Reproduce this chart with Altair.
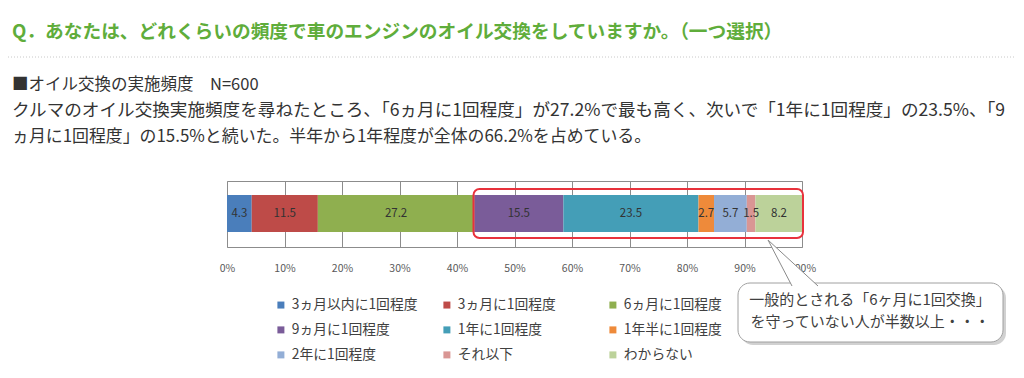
import altair as alt
import pandas as pd

categories = ["3ヵ月以内に1回程度", "3ヵ月に1回程度", "6ヵ月に1回程度",
              "9ヵ月に1回程度", "1年に1回程度", "1年半に1回程度",
              "2年に1回程度", "それ以下", "わからない"]
values = [4.3, 11.5, 27.2, 15.5, 23.5, 2.7, 5.7, 1.5, 8.2]
colors = ["#4A7EBB", "#BE4B48", "#8FAF4F", "#7A5C99", "#449EB7",
          "#EE8A3A", "#93AED6", "#D99694", "#BCD29A"]
tick_values = [0, 10, 20, 30, 40, 50, 60, 70, 80, 90, 100]

title_text = "Q．あなたは、どれくらいの頻度で車のエンジンのオイル交換をしていますか。（一つ選択）"
heading_text = "■オイル交換の実施頻度　N=600"
para_lines = [
    "クルマのオイル交換実施頻度を尋ねたところ、「6ヵ月に1回程度」が27.2%で最も高く、次いで「1年に1回程度」の23.5%、「9",
    "ヵ月に1回程度」の15.5%と続いた。半年から1年程度が全体の66.2%を占めている。",
]
callout_lines = ["一般的とされる「6ヶ月に1回交換」", "を守っていない人が半数以上・・・"]

FONT = "Noto Sans CJK JP"

df = pd.DataFrame({"category": categories, "value": values})
df["end"] = df["value"].cumsum()
df["start"] = df["end"] - df["value"]
df["mid"] = (df["start"] + df["end"]) / 2
df["order"] = range(len(df))

base = alt.Chart(df)

xscale = alt.Scale(domain=[0, 100], nice=False, zero=True)

bars = base.mark_bar(strokeWidth=0).encode(
    x=alt.X("start:Q", scale=xscale,
            axis=alt.Axis(values=tick_values, labelExpr="datum.value + '%'",
                          title=None, grid=True, gridColor="#8c8c8c", gridWidth=1,
                          domain=False, ticks=False, labelPadding=16, labelFlush=False,
                          labelFontSize=10.5, labelColor="#595959", labelFont=FONT)),
    x2="end:Q",
    y=alt.value(14),
    y2=alt.value(51),
    color=alt.Color("category:N", sort=categories,
                    scale=alt.Scale(domain=categories, range=colors),
                    legend=alt.Legend(title=None, orient="none", legendX=47, legendY=117,
                                      direction="horizontal",
                                      columns=3, gridAlign="all", columnPadding=22,
                                      rowPadding=10, symbolType="square", symbolSize=49,
                                      symbolStrokeWidth=0, labelFontSize=13.8, labelFont=FONT,
                                      labelColor="#404040", labelOffset=4, padding=0)),
    order="order:Q",
)

bar_text = base.mark_text(fontSize=11.5, color="#333333", font=FONT).encode(
    x=alt.X("mid:Q", scale=xscale),
    y=alt.value(32.5),
    text=alt.Text("value:Q", format=".1f"),
)

red_box = base.mark_rect(filled=False, stroke="#E8323C", strokeWidth=2, cornerRadius=6).encode(
    x=alt.value(246.5), x2=alt.value(576), y=alt.value(8), y2=alt.value(57)
).transform_filter("datum.order == 0")

shadow = base.mark_rect(fill="#9a9a9a", opacity=0.45, cornerRadius=12).encode(
    x=alt.value(514), x2=alt.value(779), y=alt.value(105), y2=alt.value(164)
).transform_filter("datum.order == 0")

callout = base.mark_rect(fill="white", stroke="#a0a0a0", strokeWidth=1, cornerRadius=12).encode(
    x=alt.value(511), x2=alt.value(776), y=alt.value(102), y2=alt.value(161)
).transform_filter("datum.order == 0")

tail = base.mark_point(shape="M -0.04 0.96 L -1 -0.88 L 1 0.96", size=2500, filled=True,
                       fill="white", stroke="#8a8a8a", strokeWidth=1, opacity=1,
                       fillOpacity=1, strokeOpacity=1).encode(
    x=alt.value(566), y=alt.value(81)
).transform_filter("datum.order == 0")

def txt(s, x, y, size, color="#333333", weight="normal", align="left"):
    return base.mark_text(text=s, fontSize=size, font=FONT, color=color, fontWeight=weight,
                          align=align, baseline="middle").encode(
        x=alt.value(x), y=alt.value(y)
    ).transform_filter("datum.order == 0")

def dotted(y):
    return base.mark_rule(color="#c8c8c8", strokeDash=[1, 2], strokeWidth=1).encode(
        x=alt.value(-222), x2=alt.value(789), y=alt.value(y)
    ).transform_filter("datum.order == 0")

layers = [
    dotted(-178),
    txt(title_text, -215, -149, 18.7, color="#5FAD3B", weight="bold"),
    dotted(-124),
    txt(heading_text, -215, -96, 16.5),
    txt(para_lines[0], -215, -70, 17.6),
    txt(para_lines[1], -215, -44, 16.9),
    bars, bar_text, red_box, shadow, callout, tail,
    txt(callout_lines[0], 643, 119, 15, color="#404040", align="center"),
    txt(callout_lines[1], 643, 141, 15, color="#404040", align="center"),
]

chart = alt.layer(*layers).properties(
    width=575, height=66,
    autosize=alt.AutoSizeParams(type="none"),
    padding={"left": 219, "top": 173, "right": 214, "bottom": 115},
).configure_view(stroke="#8c8c8c", strokeWidth=1)

chart.save("out.html", embed_options={"renderer": "svg", "actions": False})
